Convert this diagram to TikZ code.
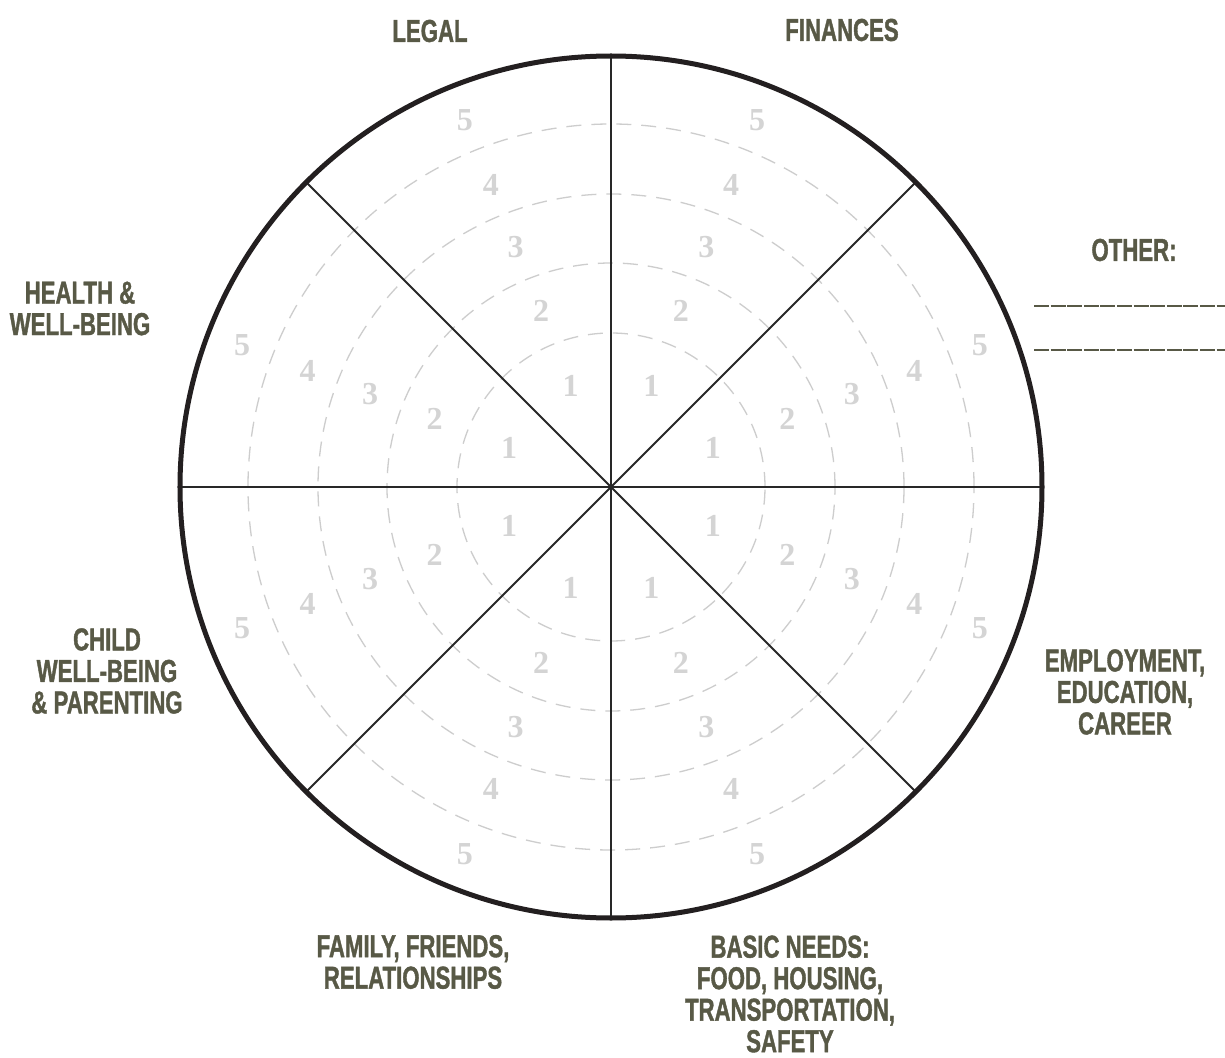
\documentclass[tikz,border=0pt]{standalone}
\usepackage{fontspec}
\newfontfamily\labelfont{Liberation Sans}[FakeStretch=0.70,FakeBold=1.2]
\newfontfamily\numfont{Liberation Serif}
\definecolor{labelcol}{RGB}{88,89,70}
\definecolor{numcol}{RGB}{212,212,212}
\definecolor{ringcol}{RGB}{205,205,205}
\definecolor{spokecol}{RGB}{40,40,40}
\definecolor{rimcol}{RGB}{35,31,32}
\begin{document}
\begin{tikzpicture}[x=1pt,y=1pt,
  lbl/.style={text=labelcol, font=\labelfont\bfseries\fontsize{31.7}{31.5}\selectfont, align=center, inner sep=0pt},
  num/.style={text=numcol, font=\numfont\bfseries\fontsize{32}{32}\selectfont, inner sep=0pt},
  ring/.style={draw=ringcol, line width=1.3pt, dash pattern=on 15pt off 10pt},
  spoke/.style={draw=spokecol, line width=2pt},
  rim/.style={draw=rimcol, line width=5pt},
  blankline/.style={draw=labelcol, line width=1.8pt, dash pattern=on 15pt off 1.6pt}]
\fill[white] (-611,-570) rectangle (614,487);
\useasboundingbox (-611,-570) rectangle (614,487);
\coordinate (c) at (0,0);
\foreach \r in {154,224,293,363} \draw[ring] (c) circle[radius=\r];
\foreach \a in {0,45,...,315} \draw[spoke] (c) -- (\a:431);
\draw[rim] (c) circle[radius=431];
\foreach \a [count=\i] in {21,68.3,111.7,159,201,248.3,291.7,339} {
  \foreach \r [count=\n] in {109,189,258,325,395}
    \node[num] (n\i-\n) at (\a:\r) {\n};
}
\node[lbl] (legal) at (-181,456) {LEGAL};
\node[lbl] (fin) at (231,457) {FINANCES};
\node[lbl] (other) at (523,237) {OTHER:};
\coordinate (l1a) at (423,181); \coordinate (l1b) at (614,181);
\coordinate (l2a) at (423,137); \coordinate (l2b) at (614,137);
\draw[blankline] (l1a) -- (l1b);
\draw[blankline] (l2a) -- (l2b);
\node[lbl] (health) at (-531,178.5) {HEALTH \&\\WELL-BEING};
\node[lbl] (child) at (-504,-184) {CHILD\\WELL-BEING\\\& PARENTING};
\node[lbl] (emp) at (514,-205) {EMPLOYMENT,\\EDUCATION,\\CAREER};
\node[lbl] (fam) at (-198,-475) {FAMILY, FRIENDS,\\RELATIONSHIPS};
\node[lbl] (basic) at (179,-507) {BASIC NEEDS:\\FOOD, HOUSING,\\TRANSPORTATION,\\SAFETY};
\end{tikzpicture}
\end{document}
